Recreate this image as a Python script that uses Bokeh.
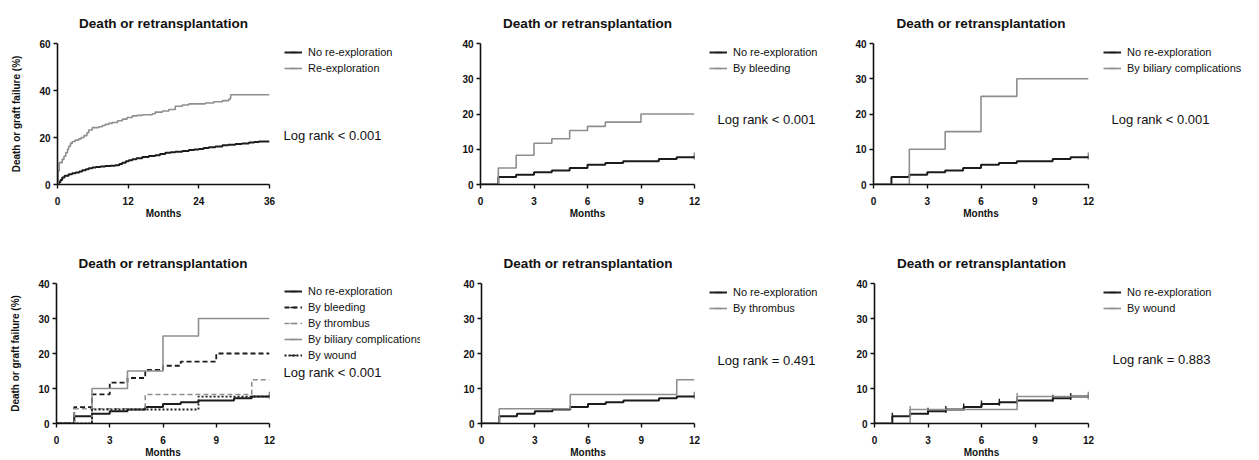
import numpy as np
from bokeh.plotting import figure
from bokeh.models import Legend, LegendItem, Label, FixedTicker
from bokeh.layouts import column, row
from bokeh.embed import file_html
from bokeh.resources import INLINE

TITLE = "Death or retransplantation"
X_LABEL = "Months"
Y_LABEL = "Death or graft failure (%)"

# ---------------- data ----------------
# Panel 1: 36-month follow-up (months, cumulative %)
p1_none_t = [0, 0.2, 0.5, 0.8, 1.2, 1.9, 2.5, 3.1, 3.7, 4.2, 4.8, 5.3, 5.9, 6.5, 7.3, 8.1,
             9.0, 9.8, 10.5, 11.0, 11.6, 12.1, 12.7, 13.4, 14.4, 15.5, 16.6, 17.4, 18.3,
             19.2, 20.0, 21.2, 22.3, 23.2, 24.0, 24.8, 25.7, 26.8, 28.0, 29.0, 30.2, 31.3,
             32.5, 33.4, 34.2, 36]
p1_none_v = [0, 1.0, 1.9, 3.0, 3.7, 4.4, 4.8, 5.1, 5.5, 6.1, 6.5, 6.9, 7.2, 7.5, 7.7, 7.9,
             8.0, 8.2, 8.7, 9.3, 9.9, 10.3, 10.7, 11.2, 11.7, 12.1, 12.5, 13.0, 13.5,
             13.7, 13.9, 14.3, 14.7, 14.9, 15.1, 15.5, 15.8, 16.2, 16.7, 16.9, 17.2, 17.5,
             17.9, 18.1, 18.3, 18.3]
p1_reexp_t = [0, 0.1, 0.3, 0.8, 1.1, 1.4, 1.7, 1.9, 2.2, 2.5, 3.0, 3.6, 4.0, 4.5, 5.0, 5.3,
              5.9, 7.0, 7.6, 8.1, 8.7, 9.3, 10.2, 11.0, 11.8, 12.7, 13.5, 14.4, 16.1, 16.6,
              17.8, 18.9, 20.0, 21.2, 22.3, 25.1, 26.5, 28.0, 29.1, 29.4, 36]
p1_reexp_v = [0, 5.8, 9.3, 10.7, 12.0, 13.5, 15.0, 16.3, 17.5, 18.3, 18.9, 19.4, 20.0, 20.8,
              22.0, 23.2, 24.2, 24.6, 25.1, 25.6, 26.0, 26.4, 27.1, 27.8, 28.5, 29.2, 29.4,
              29.7, 30.1, 30.8, 31.3, 31.9, 33.3, 33.8, 34.3, 34.7, 35.2, 35.7, 36.4, 38.2, 38.2]

# 12-month panels (monthly values, %)
months = [0, 1, 2, 3, 4, 5, 6, 7, 8, 9, 10, 11, 12]
none_v = [0, 2.1, 2.8, 3.5, 4.0, 4.7, 5.6, 6.1, 6.6, 6.6, 7.2, 7.7, 8.1]
bleeding_v = [0, 4.7, 8.3, 11.7, 13.0, 15.3, 16.5, 17.7, 17.7, 20.0, 20.0, 20.0, 20.0]
thrombus_v = [0, 4.2, 4.2, 4.2, 4.2, 8.3, 8.3, 8.3, 8.3, 8.3, 8.3, 12.5, 12.5]
biliary_v = [0, 0, 10.0, 10.0, 15.0, 15.0, 25.0, 25.0, 30.0, 30.0, 30.0, 30.0, 30.0]
wound_v = [0, 0, 4.0, 4.0, 4.0, 4.0, 4.0, 4.0, 7.7, 7.7, 7.7, 7.7, 7.7]

# censoring marks (months)
end_cens = [12]
wound_panel_none_cens = [1, 2, 3, 4, 5, 6, 7, 8, 10, 11, 12]
wound_panel_wound_cens = [2, 8, 12]

LABEL_NONE = "No re-exploration"
LABEL_REEXP = "Re-exploration"
LABEL_BLEED = "By bleeding"
LABEL_THROMB = "By thrombus"
LABEL_BILIARY = "By biliary complications"
LABEL_WOUND = "By wound"

logrank = ["Log rank < 0.001", "Log rank < 0.001", "Log rank < 0.001",
           "Log rank < 0.001", "Log rank = 0.491", "Log rank = 0.883"]

ticks36 = [0, 12, 24, 36]
ticks12 = [0, 3, 6, 9, 12]
yticks60 = [0, 20, 40, 60]
yticks40 = [0, 10, 20, 30, 40]

BLACK = "#1c1c1c"
GRAY = "#8e8e8e"
FONT = "Liberation Sans"


def lookup(t_list, v_list, ts):
    return [v_list[t_list.index(t)] for t in ts]


def make_panel(ax0, bx0, bx1, y0, h, fl, fr, ft, fb, xmax, xticks, ymax, yticks,
               ylabel, series, leg_gx, leg_row1, lr_text, lr_px):
    """Plot figure spans ax0..bx0, legend figure spans bx0..bx1 (page px).
    fl/fr: page x of data 0 / xmax; ft/fb: page y of ymax / 0."""
    aw = bx0 - ax0
    btop = ft - y0
    bbot = y0 + h - fb
    p = figure(width=aw, height=h, x_range=(0, xmax), y_range=(0, ymax),
               output_backend="svg", toolbar_location=None,
               min_border_left=fl - ax0, min_border_right=bx0 - fr,
               min_border_top=btop, min_border_bottom=bbot)
    p.outline_line_color = None
    p.grid.visible = False
    p.background_fill_color = "white"
    p.border_fill_color = "white"

    p.title.text = TITLE
    p.title.align = "center"
    p.title.text_font = FONT
    p.title.text_font_size = "13.5px"
    p.title.text_font_style = "bold"
    p.title.text_color = "#111111"
    p.title.standoff = 26

    for ax in (p.xaxis[0], p.yaxis[0]):
        ax.axis_line_width = 1.6
        ax.axis_line_color = "#111111"
        ax.major_tick_line_color = "#111111"
        ax.major_tick_line_width = 1.4
        ax.major_tick_in = 0
        ax.major_tick_out = 4
        ax.minor_tick_line_color = None
        ax.major_label_text_font = FONT
        ax.major_label_text_font_size = "10px"
        ax.major_label_text_font_style = "bold"
        ax.major_label_text_color = "#111111"
        ax.axis_label_text_font = FONT
        ax.axis_label_text_font_size = "10px"
        ax.axis_label_text_font_style = "bold"
        ax.axis_label_text_color = "#111111"

    p.xaxis[0].ticker = FixedTicker(ticks=xticks)
    p.yaxis[0].ticker = FixedTicker(ticks=yticks)
    p.xaxis[0].axis_label = X_LABEL
    p.xaxis[0].major_label_standoff = 8
    p.xaxis[0].axis_label_standoff = 0
    p.yaxis[0].major_label_standoff = 3
    if ylabel:
        p.yaxis[0].axis_label = ylabel
        p.yaxis[0].axis_label_standoff = 14

    # legend / annotation figure to the right of the plot (frame aligned with plot frame)
    bw = bx1 - bx0
    fh = fb - ft
    q = figure(width=bw, height=h, x_range=(0, bw), y_range=(0, fh),
               output_backend="svg", toolbar_location=None, title=None,
               x_axis_location=None, y_axis_location=None,
               min_border_left=0, min_border_right=0,
               min_border_top=btop, min_border_bottom=bbot)
    q.outline_line_color = None
    q.grid.visible = False
    q.background_fill_color = "white"
    q.border_fill_color = "white"

    items = []
    for (label, t, v, color, width, dash, cens_t) in series:
        p.step(t, v, mode="after", line_color=color, line_width=width, line_dash=dash)
        if cens_t:
            p.scatter(cens_t, lookup(t, v, cens_t), marker="dash", angle=np.pi / 2,
                      size=7, line_color=color, line_width=1.4)
        # legend proxies (hidden) carrying the same styles
        r = q.step(t, v, mode="after", line_color=color, line_width=width,
                   line_dash=dash, visible=False)
        m = q.scatter(t, v, marker="dash", angle=np.pi / 2, size=7,
                      line_color=color, line_width=1.4, visible=False)
        items.append(LegendItem(label=label, renderers=[r, m]))

    n = len(items)
    leg_top = leg_row1 - 8
    leg_bottom = leg_top + 16 * n
    legend = Legend(items=items, location=(leg_gx - bx0, fb - leg_bottom),
                    padding=0, margin=0, spacing=0,
                    glyph_width=18, glyph_height=16, label_height=16, label_standoff=6,
                    label_text_font=FONT, label_text_font_size="11px",
                    label_text_color="#111111", inactive_fill_alpha=0,
                    border_line_color=None, background_fill_alpha=0)
    q.add_layout(legend)

    q.add_layout(Label(x=lr_px[0] - bx0, y=fb - lr_px[1], text=lr_text,
                       text_font=FONT, text_font_size="13px", text_color="#111111",
                       text_baseline="middle", text_align="left"))
    return p, q


# ---- panel 1 ----
s1 = [(LABEL_NONE, p1_none_t, p1_none_v, BLACK, 2.0, "solid", []),
      (LABEL_REEXP, p1_reexp_t, p1_reexp_v, GRAY, 1.6, "solid", [])]
a1, b1 = make_panel(0, 278, 420, 0, 230, 57, 269, 43, 184, 36, ticks36, 60, yticks60,
                    Y_LABEL, s1, 284, 52, logrank[0], (283, 135))

# ---- panel 2 ----
s2 = [(LABEL_NONE, months, none_v, BLACK, 2.0, "solid", end_cens),
      (LABEL_BLEED, months, bleeding_v, GRAY, 1.6, "solid", [])]
a2, b2 = make_panel(420, 703, 840, 0, 230, 480, 694, 43, 184, 12, ticks12, 40, yticks40,
                    None, s2, 709, 52, logrank[1], (717, 119))

# ---- panel 3 ----
s3 = [(LABEL_NONE, months, none_v, BLACK, 2.0, "solid", end_cens),
      (LABEL_BILIARY, months, biliary_v, GRAY, 1.6, "solid", [])]
a3, b3 = make_panel(840, 1097, 1259, 0, 230, 873, 1088, 43, 184, 12, ticks12, 40, yticks40,
                    None, s3, 1103, 52, logrank[2], (1111, 119))

# ---- panel 4 ----
s4 = [(LABEL_NONE, months, none_v, BLACK, 2.0, "solid", end_cens),
      (LABEL_BLEED, months, bleeding_v, BLACK, 1.8, "5 3", []),
      (LABEL_THROMB, months, thrombus_v, GRAY, 1.6, "5 3", []),
      (LABEL_BILIARY, months, biliary_v, GRAY, 1.6, "solid", []),
      (LABEL_WOUND, months, wound_v, BLACK, 1.8, "2 2", [])]
a4, b4 = make_panel(0, 278, 420, 230, 230, 56, 269, 283, 424, 12, ticks12, 40, yticks40,
                    Y_LABEL, s4, 284, 292, logrank[3], (283, 373))

# ---- panel 5 ----
s5 = [(LABEL_NONE, months, none_v, BLACK, 2.0, "solid", end_cens),
      (LABEL_THROMB, months, thrombus_v, GRAY, 1.6, "solid", [])]
a5, b5 = make_panel(420, 703, 840, 230, 230, 481, 694, 283, 424, 12, ticks12, 40, yticks40,
                    None, s5, 709, 293, logrank[4], (717, 361))

# ---- panel 6 ----
s6 = [(LABEL_NONE, months, none_v, BLACK, 2.0, "solid", wound_panel_none_cens),
      (LABEL_WOUND, months, wound_v, GRAY, 1.6, "solid", wound_panel_wound_cens)]
a6, b6 = make_panel(840, 1097, 1259, 230, 230, 874, 1088, 283, 424, 12, ticks12, 40, yticks40,
                    None, s6, 1103, 293, logrank[5], (1112, 360))

layout = column(row(a1, b1, a2, b2, a3, b3), row(a4, b4, a5, b5, a6, b6))
open("out.html", "w").write(file_html(layout, INLINE))
